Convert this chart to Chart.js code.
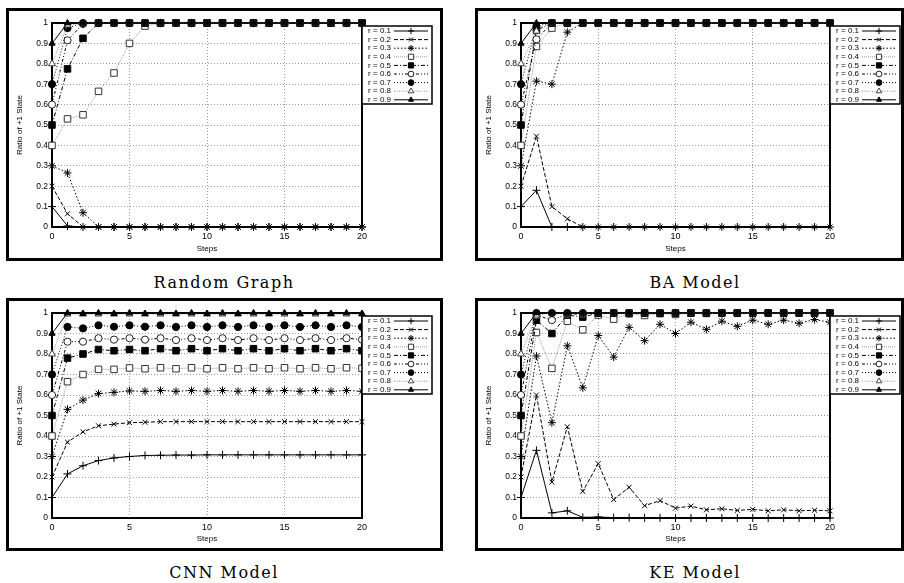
<!DOCTYPE html>
<html>
<head>
<meta charset="utf-8">
<script src="https://cdn.jsdelivr.net/npm/chart.js@4.4.1/dist/chart.umd.min.js"></script>
<style>
  body { margin: 0; background: #fff; width: 904px; height: 583px; position: relative; overflow: hidden; }
  .frame { position: absolute; border: 3px solid #000; box-sizing: border-box; }
  .frame canvas { position: absolute; left: 0; top: 0; }
  .cap { position: absolute; font-family: "DejaVu Serif", "Liberation Serif", serif; font-size: 16px; letter-spacing: 1.5px;
         transform: translateX(-50%); white-space: nowrap; color: #000; }
</style>
</head>
<body>
<div class="frame" style="left:6px;top:8px;width:437px;height:253px"><canvas id="c1" width="431" height="247"></canvas></div>
<div class="frame" style="left:475px;top:8px;width:429px;height:253px"><canvas id="c2" width="423" height="247"></canvas></div>
<div class="frame" style="left:6px;top:298px;width:437px;height:253px"><canvas id="c3" width="431" height="247"></canvas></div>
<div class="frame" style="left:475px;top:298px;width:429px;height:253px"><canvas id="c4" width="423" height="247"></canvas></div>
<div class="cap" style="left:224px;top:273px">Random Graph</div>
<div class="cap" style="left:695px;top:273px">BA Model</div>
<div class="cap" style="left:224px;top:563px">CNN Model</div>
<div class="cap" style="left:695px;top:563px">KE Model</div>
<script>
const steps = [0, 1, 2, 3, 4, 5, 6, 7, 8, 9, 10, 11, 12, 13, 14, 15, 16, 17, 18, 19, 20];
const rLabels = ['r = 0.1', 'r = 0.2', 'r = 0.3', 'r = 0.4', 'r = 0.5', 'r = 0.6', 'r = 0.7', 'r = 0.8', 'r = 0.9'];
const yTicks = [0, 0.1, 0.2, 0.3, 0.4, 0.5, 0.6, 0.7, 0.8, 0.9, 1];
const xTicks = [0, 5, 10, 15, 20];

// Random Graph, one row per r
const randomGraph = [
  [0.1, 0.005, 0, 0, 0, 0, 0, 0, 0, 0, 0, 0, 0, 0, 0, 0, 0, 0, 0, 0, 0],
  [0.2, 0.065, 0, 0, 0, 0, 0, 0, 0, 0, 0, 0, 0, 0, 0, 0, 0, 0, 0, 0, 0],
  [0.3, 0.265, 0.07, 0, 0, 0, 0, 0, 0, 0, 0, 0, 0, 0, 0, 0, 0, 0, 0, 0, 0],
  [0.4, 0.53, 0.55, 0.665, 0.755, 0.9, 0.985, 1, 1, 1, 1, 1, 1, 1, 1, 1, 1, 1, 1, 1, 1],
  [0.5, 0.775, 0.925, 1, 1, 1, 1, 1, 1, 1, 1, 1, 1, 1, 1, 1, 1, 1, 1, 1, 1],
  [0.6, 0.915, 0.995, 1, 1, 1, 1, 1, 1, 1, 1, 1, 1, 1, 1, 1, 1, 1, 1, 1, 1],
  [0.7, 0.975, 1, 1, 1, 1, 1, 1, 1, 1, 1, 1, 1, 1, 1, 1, 1, 1, 1, 1, 1],
  [0.8, 0.99, 1, 1, 1, 1, 1, 1, 1, 1, 1, 1, 1, 1, 1, 1, 1, 1, 1, 1, 1],
  [0.9, 1, 1, 1, 1, 1, 1, 1, 1, 1, 1, 1, 1, 1, 1, 1, 1, 1, 1, 1, 1]
];

const baModel = [
  [0.1, 0.18, 0, 0, 0, 0, 0, 0, 0, 0, 0, 0, 0, 0, 0, 0, 0, 0, 0, 0, 0],
  [0.2, 0.445, 0.1, 0.04, 0, 0, 0, 0, 0, 0, 0, 0, 0, 0, 0, 0, 0, 0, 0, 0, 0],
  [0.3, 0.715, 0.7, 0.955, 1, 1, 1, 1, 1, 1, 1, 1, 1, 1, 1, 1, 1, 1, 1, 1, 1],
  [0.4, 0.885, 0.975, 1, 1, 1, 1, 1, 1, 1, 1, 1, 1, 1, 1, 1, 1, 1, 1, 1, 1],
  [0.5, 0.965, 1, 1, 1, 1, 1, 1, 1, 1, 1, 1, 1, 1, 1, 1, 1, 1, 1, 1, 1],
  [0.6, 0.92, 1, 1, 1, 1, 1, 1, 1, 1, 1, 1, 1, 1, 1, 1, 1, 1, 1, 1, 1],
  [0.7, 0.985, 1, 1, 1, 1, 1, 1, 1, 1, 1, 1, 1, 1, 1, 1, 1, 1, 1, 1, 1],
  [0.8, 0.96, 1, 1, 1, 1, 1, 1, 1, 1, 1, 1, 1, 1, 1, 1, 1, 1, 1, 1, 1],
  [0.9, 1, 1, 1, 1, 1, 1, 1, 1, 1, 1, 1, 1, 1, 1, 1, 1, 1, 1, 1, 1]
];

const cnnModel = [
  [0.1, 0.215, 0.255, 0.28, 0.293, 0.3, 0.305, 0.306, 0.307, 0.307, 0.308, 0.308, 0.308, 0.308, 0.308, 0.308, 0.308, 0.308, 0.308, 0.308, 0.308],
  [0.2, 0.37, 0.42, 0.45, 0.458, 0.465, 0.467, 0.47, 0.47, 0.47, 0.47, 0.47, 0.47, 0.47, 0.47, 0.47, 0.47, 0.47, 0.47, 0.47, 0.47],
  [0.3, 0.53, 0.575, 0.607, 0.613, 0.62, 0.618, 0.622, 0.618, 0.622, 0.618, 0.622, 0.618, 0.622, 0.618, 0.622, 0.618, 0.622, 0.618, 0.622, 0.618],
  [0.4, 0.665, 0.7, 0.725, 0.725, 0.732, 0.728, 0.733, 0.728, 0.733, 0.728, 0.733, 0.728, 0.733, 0.728, 0.733, 0.728, 0.733, 0.728, 0.733, 0.73],
  [0.5, 0.78, 0.8, 0.822, 0.816, 0.822, 0.816, 0.826, 0.816, 0.826, 0.816, 0.826, 0.816, 0.826, 0.816, 0.826, 0.816, 0.826, 0.816, 0.826, 0.816],
  [0.6, 0.86, 0.86, 0.877, 0.87, 0.877, 0.87, 0.877, 0.868, 0.877, 0.868, 0.877, 0.868, 0.877, 0.868, 0.877, 0.868, 0.877, 0.868, 0.877, 0.87],
  [0.7, 0.932, 0.925, 0.94, 0.933, 0.94, 0.933, 0.94, 0.932, 0.94, 0.932, 0.94, 0.932, 0.94, 0.932, 0.94, 0.932, 0.94, 0.932, 0.94, 0.932],
  [0.8, 0.995, 0.995, 0.995, 0.995, 0.995, 0.995, 0.995, 0.995, 0.995, 0.995, 0.995, 0.995, 0.995, 0.995, 0.995, 0.995, 0.995, 0.995, 0.995, 0.995],
  [0.9, 1, 0.997, 1, 0.997, 1, 0.997, 1, 0.997, 1, 0.997, 1, 0.997, 1, 0.997, 1, 0.997, 1, 0.997, 1, 0.997]
];

const keModel = [
  [0.1, 0.33, 0.025, 0.035, 0.003, 0.005, 0.002, 0.002, 0.001, 0.001, 0, 0, 0, 0, 0, 0, 0, 0, 0, 0, 0],
  [0.2, 0.6, 0.175, 0.445, 0.13, 0.265, 0.09, 0.15, 0.06, 0.085, 0.048, 0.058, 0.04, 0.045, 0.037, 0.042, 0.035, 0.04, 0.035, 0.038, 0.035],
  [0.3, 0.79, 0.465, 0.84, 0.635, 0.89, 0.785, 0.93, 0.865, 0.945, 0.9, 0.955, 0.92, 0.96, 0.935, 0.965, 0.945, 0.965, 0.95, 0.968, 0.955],
  [0.4, 0.905, 0.73, 0.96, 0.918, 0.99, 0.97, 0.996, 0.988, 0.997, 0.993, 1, 0.998, 1, 1, 1, 1, 1, 1, 1, 1],
  [0.5, 0.965, 0.9, 0.99, 0.98, 1, 1, 1, 1, 1, 1, 1, 1, 1, 1, 1, 1, 1, 1, 1, 1],
  [0.6, 0.99, 0.965, 0.995, 0.995, 1, 1, 1, 1, 1, 1, 1, 1, 1, 1, 1, 1, 1, 1, 1, 1],
  [0.7, 1, 1, 1, 1, 1, 1, 1, 1, 1, 1, 1, 1, 1, 1, 1, 1, 1, 1, 1, 1],
  [0.8, 0.99, 1, 1, 1, 1, 1, 1, 1, 1, 1, 1, 1, 1, 1, 1, 1, 1, 1, 1, 1],
  [0.9, 1, 1, 1, 1, 1, 1, 1, 1, 1, 1, 1, 1, 1, 1, 1, 1, 1, 1, 1, 1]
];

// gnuplot-ish line and marker styles per r
const lineColors = ['#000', '#000', '#000', '#999', '#000', '#000', '#000', '#888', '#000'];
const lineDashes = [[], [4, 2], [1.5, 2], [1, 1], [4, 2, 1, 2], [3, 2, 1, 2, 1, 2], [1, 2], [1, 1.5], []];
const markStyles = ['cross', 'crossRot', 'star', 'rect', 'rect', 'circle', 'circle', 'triangle', 'triangle'];
const markRadius = [4, 3.5, 4, 4.6, 4.6, 3.6, 3.6, 4, 3.6];
const markFill = ['#000', '#000', '#000', '#fff', '#000', '#fff', '#000', '#fff', '#000'];
const markEdge = ['#000', '#000', '#000', '#333', '#000', '#222', '#000', '#444', '#000'];

const sans = '"Liberation Sans", Arial, sans-serif';

const plotBox = {
  id: 'plotBox',
  beforeDatasetsDraw(chart) {
    const { ctx, chartArea: a } = chart;
    ctx.save();
    ctx.strokeStyle = '#000';
    ctx.lineWidth = 2;
    ctx.strokeRect(a.left, a.top, a.right - a.left, a.bottom - a.top);
    ctx.restore();
  }
};

const legendBox = {
  id: 'legendBox',
  afterDraw(chart) {
    const { ctx, chartArea: a } = chart;
    const x0 = a.right, y0 = a.top + 3, w = 70, h = 78;
    ctx.save();
    ctx.fillStyle = '#fff';
    ctx.fillRect(x0, y0, w, h);
    ctx.strokeStyle = '#000';
    ctx.lineWidth = 1.5;
    ctx.strokeRect(x0, y0, w, h);
    ctx.font = '8px ' + sans;
    ctx.textAlign = 'right';
    ctx.textBaseline = 'middle';
    chart.data.datasets.forEach((ds, i) => {
      const y = y0 + 5 + i * 8.6;
      ctx.fillStyle = '#000';
      ctx.fillText(ds.label, x0 + 29, y);
      ctx.strokeStyle = ds.borderColor;
      ctx.lineWidth = 1;
      ctx.setLineDash(ds.borderDash);
      ctx.beginPath();
      ctx.moveTo(x0 + 32, y);
      ctx.lineTo(x0 + 66, y);
      ctx.stroke();
      ctx.setLineDash([]);
      ctx.fillStyle = ds.pointBackgroundColor;
      ctx.strokeStyle = ds.pointBorderColor;
      Chart.helpers.drawPoint(ctx, { pointStyle: ds.pointStyle, radius: ds.pointRadius * 0.8, rotation: 0, borderWidth: 1 }, x0 + 49, y);
    });
    ctx.restore();
  }
};

function makeChart(id, frame, plot, series) {
  const canvas = document.getElementById(id);
  const ox = frame.left + 3, oy = frame.top + 3;
  const L = plot.left - ox, R = plot.right - ox, T = plot.top - oy, B = plot.bottom - oy;
  const cw = canvas.width, ch = canvas.height;

  const datasets = series.map((vals, i) => ({
    label: rLabels[i],
    data: vals.map((v, j) => ({ x: steps[j], y: v })),
    borderColor: lineColors[i],
    borderWidth: 1,
    borderDash: lineDashes[i],
    pointStyle: markStyles[i],
    pointRadius: markRadius[i],
    pointBackgroundColor: markFill[i],
    pointBorderColor: markEdge[i],
    pointBorderWidth: 1,
    fill: false,
    tension: 0,
    clip: false,
    order: 8 - i
  }));

  new Chart(canvas, {
    type: 'line',
    data: { datasets },
    options: {
      responsive: false,
      animation: false,
      devicePixelRatio: 1,
      layout: { autoPadding: false, padding: { left: 0, top: T, right: cw - R, bottom: 0 } },
      plugins: { legend: { display: false }, tooltip: { enabled: false } },
      scales: {
        x: {
          type: 'linear', min: 0, max: 20,
          afterBuildTicks: s => { s.ticks = xTicks.map(v => ({ value: v })); },
          afterFit: s => { s.height = ch - B; },
          ticks: { color: '#000', font: { family: sans, size: 9 }, padding: 4, maxRotation: 0 },
          grid: { color: '#999', lineWidth: 1, drawTicks: false },
          border: { display: false, dash: [1, 2] },
          title: { display: true, text: 'Steps', color: '#000', font: { family: sans, size: 8 }, padding: { top: 0, bottom: 4 } }
        },
        y: {
          type: 'linear', min: 0, max: 1,
          afterBuildTicks: s => { s.ticks = yTicks.map(v => ({ value: v })); },
          afterFit: s => { s.width = L; },
          ticks: { color: '#000', font: { family: sans, size: 8.5 }, padding: 4, callback: v => String(+v.toFixed(1)) },
          grid: { color: '#999', lineWidth: 1, drawTicks: false },
          border: { display: false, dash: [1, 2] },
          title: { display: true, text: 'Ratio of +1 State', color: '#000', font: { family: sans, size: 8 }, padding: { top: 6, bottom: 0 } }
        }
      }
    },
    plugins: [plotBox, legendBox]
  });
}

makeChart('c1', { left: 6, top: 8 }, { left: 52, right: 362, top: 23, bottom: 227 }, randomGraph);
makeChart('c2', { left: 475, top: 8 }, { left: 521, right: 830, top: 23, bottom: 227 }, baModel);
makeChart('c3', { left: 6, top: 298 }, { left: 52, right: 362, top: 313, bottom: 518 }, cnnModel);
makeChart('c4', { left: 475, top: 298 }, { left: 521, right: 830, top: 313, bottom: 518 }, keModel);
</script>
</body>
</html>
